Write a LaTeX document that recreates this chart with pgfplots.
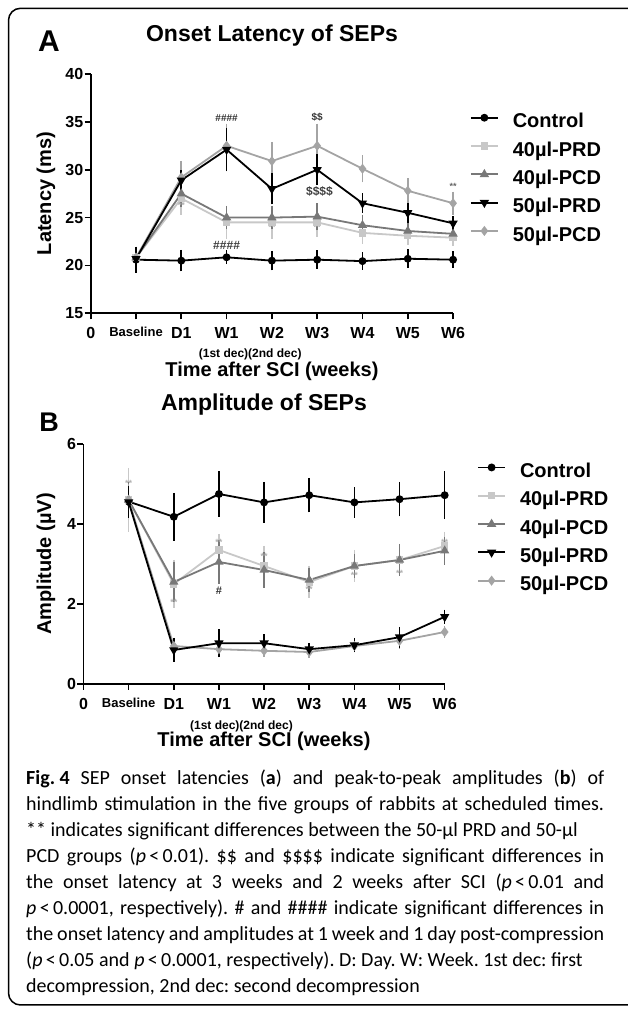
\documentclass[border=0pt]{standalone}
\usepackage{fontspec}
\setmainfont{Liberation Sans}
\newfontfamily\capfont{Carlito}
\usepackage{pgfplots}
\pgfplotsset{compat=1.18}
\definecolor{cPRDf}{HTML}{C8C8C8}
\definecolor{cPCDf}{HTML}{787878}
\definecolor{cPCDs}{HTML}{A4A4A4}
\definecolor{cStar}{HTML}{B0B0B0}
\pgfplotsset{
 sepstyle/.style={
  scale only axis,
  anchor=south west,
  axis x line*=bottom, axis y line*=left,
  axis line style={line width=1.6pt,-},
  tick style={line width=1.6pt, black},
  major tick length=6pt,
  tick align=outside,
  xmin=0,xmax=8,
  xtick={0,...,8},
  xticklabels={0,{\fontsize{13pt}{13pt}\selectfont Baseline},D1,W1,W2,W3,W4,W5,W6},
  ticklabel style={font=\fontsize{16pt}{16pt}\selectfont\bfseries},
  xticklabel style={yshift=-4.5pt},
  yticklabel style={xshift=2pt},
  /pgf/number format/assume math mode=true,
  clip=false,
  every axis plot/.append style={line width=1.8pt},
  legend style={draw=none, fill=none, font=\fontsize{20pt}{20pt}\selectfont\bfseries,
     anchor=north west, inner sep=0pt, outer sep=0pt, row sep=9.8pt,
     nodes={inner sep=0pt, text height=14.5pt, text depth=4pt},
     /tikz/every odd column/.style={column sep=14pt}},
  legend cell align=left,
  legend image code/.code={\draw[mark repeat=2,mark phase=2] plot coordinates {(0pt,5pt)(13.5pt,5pt)(27pt,5pt)};},
  error bars/y dir=both, error bars/y explicit,
  error bars/error bar style={line width=1.6pt, solid},
  error bars/error mark options={mark size=4pt, line width=1.6pt},
 },
 sCtrl/.style={black, mark=*, mark size=3pt, mark options={fill=black}},
 s40PRD/.style={cPRDf, mark=square*, mark size=2.8pt, mark options={fill=cPRDf}},
 s40PCD/.style={cPCDf, mark=triangle*, mark size=3.6pt, mark options={fill=cPCDf}},
 s50PRD/.style={black, mark=triangle*, mark size=3.6pt, mark options={rotate=180, fill=black}},
 s50PCD/.style={cPCDs, mark=diamond*, mark size=3.6pt, mark options={fill=cPCDs}},
}
\begin{document}
\frenchspacing
\begin{tikzpicture}[x=1pt,y=1pt]
\useasboundingbox (0,0) rectangle (627,1010);
\draw[line width=1.5pt, rounded corners=12pt] (8.5,5) rectangle (720,1001.7);

% ---------- Panel A ----------
\node[font=\fontsize{30pt}{30pt}\selectfont\bfseries, anchor=base] at (49,958.3) {A};
\node[font=\fontsize{23pt}{23pt}\selectfont\bfseries, anchor=base] at (272,968.3) {Onset Latency of SEPs};
\begin{axis}[sepstyle, at={(90.7pt,696.7pt)}, width=362.4pt, height=239.3pt,
  ymin=15, ymax=40, ytick={15,20,...,40},
  legend style={at={(1.0466,0.835)}}]
\addplot+[sCtrl] coordinates {(1,20.6) +- (0,0.95) (2,20.5) +- (0,0.7) (3,20.85) +- (0,0.3) (4,20.5) +- (0,0.6) (5,20.6) +- (0,0.55) (6,20.45) +- (0,0.5) (7,20.7) +- (0,0.55) (8,20.6) +- (0,0.45)};
\addlegendentry{Control}
\addplot+[s40PRD] coordinates {(1,20.8) +- (0,0.7) (2,27.0) +- (0,1.3) (3,24.5) +- (0,1.3) (4,24.5) +- (0,1.3) (5,24.5) +- (0,1.1) (6,23.4) +- (0,0.7) (7,23.1) +- (0,0.5) (8,22.9) +- (0,0.4)};
\addlegendentry{40\textmu l-PRD}
\addplot+[s40PCD] coordinates {(1,20.8) +- (0,0.7) (2,27.5) +- (0,1.0) (3,25.0) +- (0,0.8) (4,25.0) +- (0,0.8) (5,25.1) +- (0,1.0) (6,24.2) +- (0,0.7) (7,23.6) +- (0,0.4) (8,23.3) +- (0,0.3)};
\addlegendentry{40\textmu l-PCD}
\addplot+[s50PCD, forget plot] coordinates {(1,20.8) +- (0,0.7) (2,29.2) +- (0,1.3) (3,32.5) +- (0,1.9) (4,30.9) +- (0,1.6) (5,32.5) +- (0,1.9) (6,30.1) +- (0,1.0) (7,27.8) +- (0,0.9) (8,26.5) +- (0,0.8)};
\addplot+[s50PRD] coordinates {(1,20.7) +- (0,0.8) (2,28.9) +- (0,0.6) (3,32.1) +- (0,1.85) (4,28.0) +- (0,1.2) (5,30.0) +- (0,1.2) (6,26.5) +- (0,0.6) (7,25.5) +- (0,0.6) (8,24.4) +- (0,0.35)};
\addlegendentry{50\textmu l-PRD}
\addlegendimage{s50PCD, line width=1.8pt}
\addlegendentry{50\textmu l-PCD}
\node[font=\fontsize{10pt}{10pt}\selectfont\bfseries, text=black!80] at (axis cs:3,35.4) {\#\#\#\#};
\node[font=\fontsize{10pt}{10pt}\selectfont\bfseries, text=black!80] at (axis cs:5,35.5) {\$\$};
\node[font=\fontsize{12pt}{12pt}\selectfont\bfseries, text=black!75] at (axis cs:5.05,27.7) {\$\$\$\$};
\node[font=\fontsize{12pt}{12pt}\selectfont\bfseries, text=black!75] at (axis cs:3,22.06) {\#\#\#\#};
\node[font=\fontsize{9pt}{9pt}\selectfont\bfseries, text=black!60] at (axis cs:8,28.3) {**};
\node[font=\fontsize{9pt}{9pt}\selectfont\bfseries, text=cStar] at (axis cs:2,26.3) {**};
\node[font=\fontsize{9pt}{9pt}\selectfont\bfseries, text=cStar] at (axis cs:4,24.0) {**};
\node[font=\fontsize{9pt}{9pt}\selectfont\bfseries, text=cStar] at (axis cs:5,24.0) {**};
\node[font=\fontsize{9pt}{9pt}\selectfont\bfseries, text=cStar] at (axis cs:6,23.4) {**};
\end{axis}
\node[font=\fontsize{12pt}{12pt}\selectfont\bfseries, anchor=base] at (250.2,652.5) {(1st dec)(2nd dec)};
\node[font=\fontsize{20pt}{20pt}\selectfont\bfseries, anchor=base] at (272,633.3) {Time after SCI (weeks)};
\node[font=\fontsize{20pt}{20pt}\selectfont\bfseries, rotate=90, anchor=center] at (46,816.5) {Latency (ms)};

% ---------- Panel B ----------
\node[font=\fontsize{27pt}{27pt}\selectfont\bfseries, anchor=base] at (49,578.3) {B};
\node[font=\fontsize{23pt}{23pt}\selectfont\bfseries, anchor=base] at (264,599.3) {Amplitude of SEPs};
\begin{axis}[sepstyle, at={(83.5pt,326pt)}, width=361.2pt, height=240pt,
  ymin=0, ymax=6, ytick={0,2,4,6},
  legend style={at={(1.09,0.92)}}]
\addplot+[sCtrl] coordinates {(1,4.56) +- (0,0.4) (2,4.18) +- (0,0.5) (3,4.75) +- (0,0.47) (4,4.54) +- (0,0.41) (5,4.72) +- (0,0.33) (6,4.54) +- (0,0.28) (7,4.62) +- (0,0.33) (8,4.72) +- (0,0.5)};
\addlegendentry{Control}
\addplot+[s40PRD] coordinates {(1,4.6) +- (0,0.7) (2,2.5) +- (0,0.5) (3,3.35) +- (0,0.3) (4,2.95) +- (0,0.4) (5,2.55) +- (0,0.3) (6,2.95) +- (0,0.3) (7,3.1) +- (0,0.3) (8,3.45) +- (0,0.25)};
\addlegendentry{40\textmu l-PRD}
\addplot+[s40PCD] coordinates {(1,4.6) +- (0,0.35) (2,2.55) +- (0,0.4) (3,3.05) +- (0,0.45) (4,2.85) +- (0,0.35) (5,2.6) +- (0,0.2) (6,2.95) +- (0,0.2) (7,3.1) +- (0,0.3) (8,3.33) +- (0,0.25)};
\addlegendentry{40\textmu l-PCD}
\addplot+[s50PCD, forget plot] coordinates {(1,4.6) +- (0,0.3) (2,0.95) +- (0,0.1) (3,0.87) +- (0,0.1) (4,0.83) +- (0,0.05) (5,0.8) +- (0,0.05) (6,0.95) +- (0,0.05) (7,1.08) +- (0,0.1) (8,1.3) +- (0,0.05)};
\addplot+[s50PRD] coordinates {(1,4.55) +- (0,0.3) (2,0.85) +- (0,0.2) (3,1.02) +- (0,0.25) (4,1.02) +- (0,0.12) (5,0.87) +- (0,0.05) (6,0.97) +- (0,0.08) (7,1.17) +- (0,0.16) (8,1.68) +- (0,0.08)};
\addlegendentry{50\textmu l-PRD}
\addlegendimage{s50PCD, line width=1.8pt}
\addlegendentry{50\textmu l-PCD}
\node[font=\fontsize{11pt}{11pt}\selectfont\bfseries, text=black!80] at (axis cs:3,2.34) {\#};
\node[font=\fontsize{9pt}{9pt}\selectfont\bfseries, text=cStar] at (axis cs:1,5.02) {**};
\node[font=\fontsize{9pt}{9pt}\selectfont\bfseries, text=cStar] at (axis cs:2,2.03) {**};
\node[font=\fontsize{9pt}{9pt}\selectfont\bfseries, text=cStar] at (axis cs:3,3.55) {**};
\node[font=\fontsize{9pt}{9pt}\selectfont\bfseries, text=cStar] at (axis cs:4,3.2) {**};
\node[font=\fontsize{9pt}{9pt}\selectfont\bfseries, text=cStar] at (axis cs:5,2.36) {**};
\node[font=\fontsize{9pt}{9pt}\selectfont\bfseries, text=cStar] at (axis cs:6,2.71) {**};
\node[font=\fontsize{9pt}{9pt}\selectfont\bfseries, text=cStar] at (axis cs:7,2.77) {**};
\node[font=\fontsize{9pt}{9pt}\selectfont\bfseries, text=cStar] at (axis cs:8,3.55) {**};
\end{axis}
\node[font=\fontsize{12pt}{12pt}\selectfont\bfseries, anchor=base] at (241.5,280.5) {(1st dec)(2nd dec)};
\node[font=\fontsize{20pt}{20pt}\selectfont\bfseries, anchor=base] at (264,263.3) {Time after SCI (weeks)};
\node[font=\fontsize{20pt}{20pt}\selectfont\bfseries, rotate=90, anchor=center] at (46,446) {Amplitude (\textmu V)};

% ---------- Caption ----------
\begin{scope}[every node/.style={anchor=base west, inner sep=0pt, font=\capfont\fontsize{20pt}{20pt}\selectfont}]
\node at (26,225) {\makebox[578pt][s]{\mbox{\textbf{Fig.\ 4}} SEP onset latencies (\textbf{a}) and peak-to-peak amplitudes (\textbf{b}) of}};
\node at (26,199) {\makebox[578pt][s]{hindlimb stimulation in the five groups of rabbits at scheduled times.}};
\node at (26,173) {** indicates significant differences between the 50-\textmu l PRD and 50-\textmu l};
\node at (26,147) {\makebox[578pt][s]{PCD groups (\textit{p}\,<\,0.01). \$\$ and \$\$\$\$ indicate significant differences in}};
\node at (26,121) {\makebox[578pt][s]{the onset latency at 3 weeks and 2 weeks after SCI (\textit{p}\,<\,0.01 and}};
\node at (26,95) {\makebox[578pt][s]{\textit{p}\,<\,0.0001, respectively). \# and \#\#\#\# indicate significant differences in}};
\node at (26,69) {\makebox[578pt][s]{the onset latency and amplitudes at 1 week and 1 day post-compression}};
\node at (26,43) {(\textit{p}\,<\,0.05 and \textit{p}\,<\,0.0001, respectively). D: Day. W: Week. 1st dec: first};
\node at (26,17) {decompression, 2nd dec: second decompression};
\end{scope}
\end{tikzpicture}
\end{document}
